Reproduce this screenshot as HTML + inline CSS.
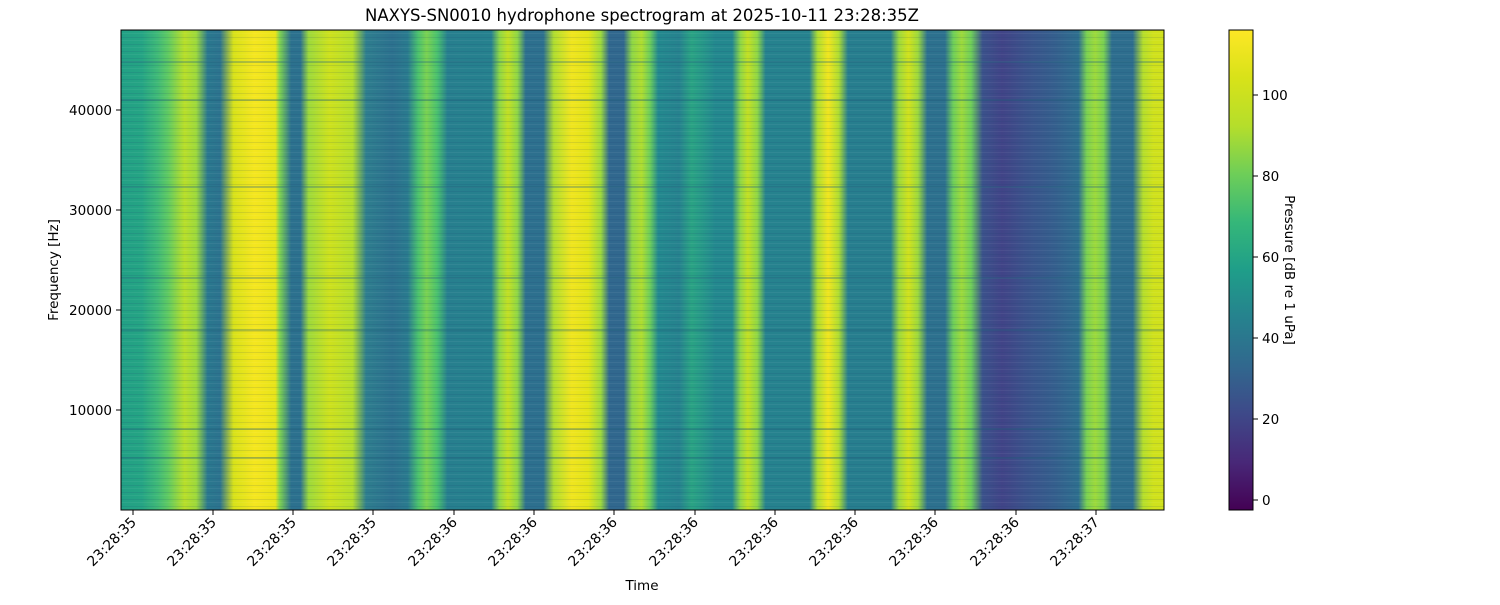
<!DOCTYPE html>
<html><head><meta charset="utf-8"><style>
body{margin:0;background:#fff;}
svg text{font-family:"DejaVu Sans","Liberation Sans",sans-serif;fill:#000;}
</style></head><body>
<svg width="1500" height="600" viewBox="0 0 1500 600" xmlns="http://www.w3.org/2000/svg">
<defs>
<linearGradient id="spec" x1="121" x2="1164" y1="0" y2="0" gradientUnits="userSpaceOnUse">
<stop offset="0" stop-color="#22a085"/>
<stop offset="0.02" stop-color="#25a484"/>
<stop offset="0.035" stop-color="#3fb977"/>
<stop offset="0.045" stop-color="#5ec962"/>
<stop offset="0.061" stop-color="#b8de29"/>
<stop offset="0.072" stop-color="#9dd93b"/>
<stop offset="0.083" stop-color="#2a788e"/>
<stop offset="0.095" stop-color="#2c738e"/>
<stop offset="0.108" stop-color="#d8e219"/>
<stop offset="0.128" stop-color="#f5e61f"/>
<stop offset="0.148" stop-color="#e8e419"/>
<stop offset="0.152" stop-color="#7fd34e"/>
<stop offset="0.163" stop-color="#2c718e"/>
<stop offset="0.172" stop-color="#2c718e"/>
<stop offset="0.18" stop-color="#9dd93b"/>
<stop offset="0.2" stop-color="#cde11d"/>
<stop offset="0.222" stop-color="#b5de2b"/>
<stop offset="0.235" stop-color="#2e7e8e"/>
<stop offset="0.26" stop-color="#2c718e"/>
<stop offset="0.275" stop-color="#2a7b8e"/>
<stop offset="0.285" stop-color="#4ac16d"/>
<stop offset="0.293" stop-color="#7ad151"/>
<stop offset="0.303" stop-color="#4ac16d"/>
<stop offset="0.313" stop-color="#277f8e"/>
<stop offset="0.355" stop-color="#26818e"/>
<stop offset="0.363" stop-color="#8fd744"/>
<stop offset="0.371" stop-color="#c2df23"/>
<stop offset="0.38" stop-color="#8fd744"/>
<stop offset="0.388" stop-color="#2d708e"/>
<stop offset="0.405" stop-color="#2d708e"/>
<stop offset="0.415" stop-color="#b0dd2f"/>
<stop offset="0.432" stop-color="#f0e51e"/>
<stop offset="0.448" stop-color="#e2e418"/>
<stop offset="0.46" stop-color="#9dd93b"/>
<stop offset="0.468" stop-color="#31688e"/>
<stop offset="0.482" stop-color="#31688e"/>
<stop offset="0.49" stop-color="#8fd744"/>
<stop offset="0.499" stop-color="#b0dd2f"/>
<stop offset="0.507" stop-color="#6ece58"/>
<stop offset="0.515" stop-color="#23898e"/>
<stop offset="0.535" stop-color="#26828e"/>
<stop offset="0.547" stop-color="#2aa383"/>
<stop offset="0.56" stop-color="#26958a"/>
<stop offset="0.57" stop-color="#23888e"/>
<stop offset="0.586" stop-color="#23888e"/>
<stop offset="0.594" stop-color="#8fd744"/>
<stop offset="0.601" stop-color="#c2df23"/>
<stop offset="0.61" stop-color="#8fd744"/>
<stop offset="0.618" stop-color="#26828e"/>
<stop offset="0.66" stop-color="#26828e"/>
<stop offset="0.668" stop-color="#b0dd2f"/>
<stop offset="0.678" stop-color="#f0e51e"/>
<stop offset="0.688" stop-color="#b0dd2f"/>
<stop offset="0.697" stop-color="#277e8e"/>
<stop offset="0.738" stop-color="#277e8e"/>
<stop offset="0.746" stop-color="#9dd93b"/>
<stop offset="0.755" stop-color="#d0e11c"/>
<stop offset="0.764" stop-color="#9dd93b"/>
<stop offset="0.773" stop-color="#2d718e"/>
<stop offset="0.79" stop-color="#2d718e"/>
<stop offset="0.798" stop-color="#6ece58"/>
<stop offset="0.806" stop-color="#9dd93b"/>
<stop offset="0.815" stop-color="#6ece58"/>
<stop offset="0.826" stop-color="#3b528b"/>
<stop offset="0.845" stop-color="#414487"/>
<stop offset="0.867" stop-color="#3b528b"/>
<stop offset="0.895" stop-color="#355f8d"/>
<stop offset="0.918" stop-color="#2e6f8e"/>
<stop offset="0.926" stop-color="#7ad151"/>
<stop offset="0.934" stop-color="#9dd93b"/>
<stop offset="0.942" stop-color="#7ad151"/>
<stop offset="0.95" stop-color="#2e6e8e"/>
<stop offset="0.97" stop-color="#2e6e8e"/>
<stop offset="0.98" stop-color="#b5de2b"/>
<stop offset="0.99" stop-color="#d0e11c"/>
<stop offset="1" stop-color="#d0e11c"/>
</linearGradient>
<linearGradient id="cb" x1="0" y1="1" x2="0" y2="0">
<stop offset="0" stop-color="#440154"/>
<stop offset="0.1" stop-color="#482878"/>
<stop offset="0.2" stop-color="#3e4989"/>
<stop offset="0.3" stop-color="#31688e"/>
<stop offset="0.4" stop-color="#26828e"/>
<stop offset="0.5" stop-color="#1f9e89"/>
<stop offset="0.6" stop-color="#35b779"/>
<stop offset="0.7" stop-color="#6ece58"/>
<stop offset="0.8" stop-color="#b5de2b"/>
<stop offset="0.9" stop-color="#d8e219"/>
<stop offset="1" stop-color="#fde725"/>
</linearGradient>
<pattern id="stripes" width="1043" height="7" patternUnits="userSpaceOnUse">
<rect x="0" y="2" width="1043" height="1" fill="#1b3a6a" opacity="0.12"/>
<rect x="0" y="5" width="1043" height="1" fill="#ffffff" opacity="0.05"/>
</pattern>
</defs>
<text x="642" y="21" font-size="16.5" text-anchor="middle">NAXYS-SN0010 hydrophone spectrogram at 2025-10-11 23:28:35Z</text>
<rect x="121" y="30" width="1043" height="480" fill="url(#spec)"/>
<rect x="121" y="30" width="1043" height="480" fill="url(#stripes)"/>
<g stroke="#1f5f7a" stroke-width="2" opacity="0.3">
<line x1="121" y1="429" x2="1164" y2="429"/>
<line x1="121" y1="458" x2="1164" y2="458"/>
<line x1="121" y1="330" x2="1164" y2="330"/>
<line x1="121" y1="278" x2="1164" y2="278"/>
<line x1="121" y1="187" x2="1164" y2="187"/>
<line x1="121" y1="100" x2="1164" y2="100"/>
<line x1="121" y1="62" x2="1164" y2="62"/>
</g>
<rect x="121" y="30" width="1043" height="480" fill="none" stroke="#000" stroke-width="1"/>
<g stroke="#000">
<line x1="121" y1="410" x2="116" y2="410"/><line x1="121" y1="310" x2="116" y2="310"/>
<line x1="121" y1="210" x2="116" y2="210"/><line x1="121" y1="110" x2="116" y2="110"/>
</g>
<g font-size="13.5" text-anchor="end">
<text x="112" y="415">10000</text><text x="112" y="315">20000</text>
<text x="112" y="215">30000</text><text x="112" y="115">40000</text>
</g>
<text transform="translate(58,270) rotate(-90)" font-size="13.5" text-anchor="middle">Frequency [Hz]</text>
<g stroke="#000">
<line x1="133" y1="510" x2="133" y2="515"/><line x1="213" y1="510" x2="213" y2="515"/>
<line x1="293" y1="510" x2="293" y2="515"/><line x1="373" y1="510" x2="373" y2="515"/>
<line x1="454" y1="510" x2="454" y2="515"/><line x1="534" y1="510" x2="534" y2="515"/>
<line x1="614" y1="510" x2="614" y2="515"/><line x1="695" y1="510" x2="695" y2="515"/>
<line x1="775" y1="510" x2="775" y2="515"/><line x1="855" y1="510" x2="855" y2="515"/>
<line x1="935" y1="510" x2="935" y2="515"/><line x1="1016" y1="510" x2="1016" y2="515"/>
<line x1="1096" y1="510" x2="1096" y2="515"/>
</g>
<g font-size="13.9" text-anchor="end">
<text transform="translate(137,523) rotate(-45)">23:28:35</text>
<text transform="translate(217,523) rotate(-45)">23:28:35</text>
<text transform="translate(297,523) rotate(-45)">23:28:35</text>
<text transform="translate(377,523) rotate(-45)">23:28:35</text>
<text transform="translate(458,523) rotate(-45)">23:28:36</text>
<text transform="translate(538,523) rotate(-45)">23:28:36</text>
<text transform="translate(618,523) rotate(-45)">23:28:36</text>
<text transform="translate(699,523) rotate(-45)">23:28:36</text>
<text transform="translate(779,523) rotate(-45)">23:28:36</text>
<text transform="translate(859,523) rotate(-45)">23:28:36</text>
<text transform="translate(939,523) rotate(-45)">23:28:36</text>
<text transform="translate(1020,523) rotate(-45)">23:28:36</text>
<text transform="translate(1100,523) rotate(-45)">23:28:37</text>
</g>
<text x="642" y="590" font-size="13.5" text-anchor="middle">Time</text>
<rect x="1229" y="30" width="24" height="480" fill="url(#cb)" stroke="#000" stroke-width="1"/>
<g stroke="#000">
<line x1="1253" y1="500" x2="1258" y2="500"/><line x1="1253" y1="419" x2="1258" y2="419"/>
<line x1="1253" y1="338" x2="1258" y2="338"/><line x1="1253" y1="257" x2="1258" y2="257"/>
<line x1="1253" y1="176" x2="1258" y2="176"/><line x1="1253" y1="95" x2="1258" y2="95"/>
</g>
<g font-size="13.5">
<text x="1262" y="505">0</text><text x="1262" y="424">20</text>
<text x="1262" y="343">40</text><text x="1262" y="262">60</text>
<text x="1262" y="181">80</text><text x="1262" y="100">100</text>
</g>
<text transform="translate(1285,270) rotate(90)" font-size="13.5" text-anchor="middle">Pressure [dB re 1 uPa]</text>
</svg>
</body></html>
